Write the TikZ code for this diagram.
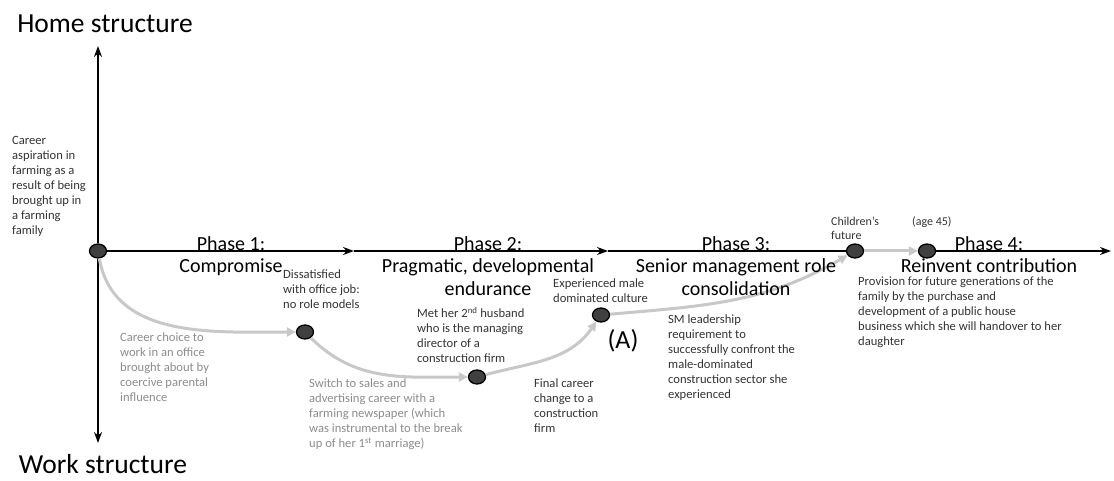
\documentclass[tikz,border=0pt]{standalone}
\usepackage{fontspec}
\setmainfont{Carlito}
\usetikzlibrary{shapes.geometric,arrows.meta,positioning}
\definecolor{evfill}{HTML}{404040}
\definecolor{trail}{HTML}{C8C8C8}
\definecolor{soft}{HTML}{8C8C8C}
\definecolor{ink}{HTML}{333333}

\begin{document}
\begin{tikzpicture}[x=1pt, y=1pt,
  event/.style={draw=black, line width=1.3pt, fill=evfill, ellipse, minimum width=17pt, minimum height=14pt, inner sep=0pt},
  note/.style={anchor=north west, inner sep=0pt, align=left, text=ink, font=\fontsize{12.6}{15}\selectfont},
  softnote/.style={note, text=soft},
  phase/.style={anchor=north, inner sep=0pt, align=center, font=\fontsize{20}{22.5}\selectfont},
  axis/.style={line width=2.4pt, -{Stealth[length=11pt, width=8pt]}},
  trailarrow/.style={draw=trail, line width=3pt, -{Triangle[length=9pt, width=9pt]}}]
\useasboundingbox (0,0) rectangle (1114,-481);

% events
\node[event] (origin) at (98,-251) {};
\node[event] (dissat) at (305,-332) {};
\node[event] (husband) at (477,-377) {};
\node[event] (culture) at (601,-315) {};
\node[event] (children) at (855,-251) {};
\node[event] (age) at (927,-251) {};

% axis ends
\coordinate (top) at (98,-46);
\coordinate (bottom) at (98,-443);
\coordinate (ph1) at (354,-251);
\coordinate (ph2) at (608,-251);
\coordinate (xend) at (1111,-251);

% axes
\draw[axis] (origin) -- (top);
\draw[axis] (origin) -- (bottom);
\draw[axis] (origin) -- (ph1);
\draw[axis] (ph1) -- (ph2);
\draw[line width=2.4pt] (ph2) -- (children);
\draw[axis] (age) -- (xend);

% career path
\draw[trailarrow] (origin) to[out=-80, in=180] (dissat);
\draw[trailarrow] (dissat) to[out=-45, in=180] (husband);
\draw[trailarrow] (husband) to[out=15, in=-125] (culture);
\draw[trailarrow] (culture) to[out=5, in=-150] (children);
\draw[trailarrow] (children) -- (age);

% structure labels
\node[font=\fontsize{27.5}{32}\selectfont, anchor=base] (home) at (105,-33) {Home structure};
\node[font=\fontsize{27.5}{32}\selectfont, anchor=base] (work) at (103,-473) {Work structure};

% phases
\node[phase] (phase1) at (231,-236) {Phase 1:\\Compromise};
\node[phase] (phase2) at (488,-236) {Phase 2:\\Pragmatic, developmental\\endurance};
\node[phase] (phase3) at (736,-236) {Phase 3:\\Senior management role\\consolidation};
\node[phase] (phase4) at (989,-236) {Phase 4:\\Reinvent contribution};

% notes
\node[note] (aspirtxt) at (12,-136) {Career\\aspiration in\\farming as a\\result of being\\brought up in\\a farming\\family};
\node[softnote] (choicetxt) at (120,-333) {Career choice to\\work in an office\\brought about by\\coercive parental\\influence};
\node[note] (dissattxt) at (283,-270) {Dissatisfied\\with office job:\\no role models};
\node[note] (husbandtxt) at (417,-307) {Met her 2\textsuperscript{nd} husband\\who is the managing\\director of a\\construction firm};
\node[softnote] (switchtxt) at (309,-379) {Switch to sales and\\advertising career with a\\farming newspaper (which\\was instrumental to the break\\up of her 1\textsuperscript{st} marriage)};
\node[note] (culturetxt) at (553,-279) {Experienced male\\dominated culture};
\node[font=\fontsize{26}{30}\selectfont] (marka) at (623,-341) {(A)};
\node[note] (finaltxt) at (534,-379) {Final career\\change to a\\construction\\firm};
\node[note] (smtxt) at (668,-315) {SM leadership\\requirement to\\successfully confront the\\male-dominated\\construction sector she\\experienced};
\node[note, font=\fontsize{12}{14}\selectfont] (childrentxt) at (831,-217) {Children’s\\future};
\node[note, font=\fontsize{12}{14}\selectfont] (agetxt) at (912,-217) {(age 45)};
\node[note] (provisiontxt) at (858,-277) {Provision for future generations of the\\family by the purchase and\\development of a public house\\business which she will handover to her\\daughter};
\end{tikzpicture}
\end{document}
